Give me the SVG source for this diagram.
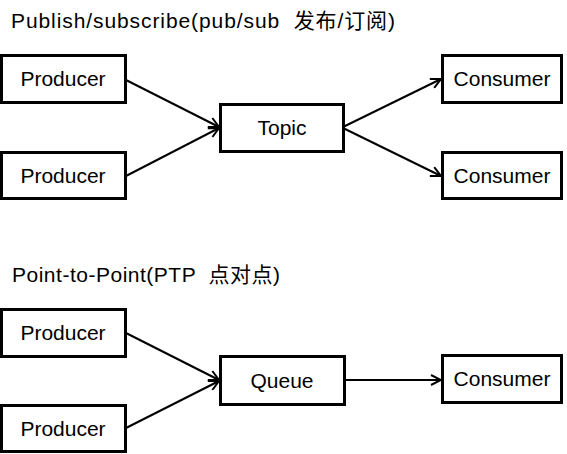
<svg xmlns="http://www.w3.org/2000/svg" width="567" height="454" viewBox="0 0 567 454">
<style>
.box{fill:#fff;stroke:#000;stroke-width:3}
.lbl{font-family:"Liberation Sans","Noto Sans CJK SC",sans-serif;font-size:21px;fill:#000;text-anchor:middle}
.title{font-family:"Liberation Sans","Noto Sans CJK SC",sans-serif;font-size:21px;fill:#000;white-space:pre}
.edge{stroke:#000;stroke-width:2;fill:none;marker-end:url(#arr)}
</style>
<defs>
<marker id="arr" viewBox="0 0 12 12" refX="11" refY="6" markerWidth="12" markerHeight="12" markerUnits="userSpaceOnUse" orient="auto">
<path d="M1,1 L11,6 L1,11" fill="none" stroke="#000" stroke-width="2"/>
</marker>
</defs>
<rect width="567" height="454" fill="#fff"/>
<text class="title" x="11" y="28" xml:space="preserve" textLength="384" lengthAdjust="spacing">Publish/subscribe(pub/sub  发布/订阅)</text>
<text class="title" x="12" y="282" xml:space="preserve" textLength="268" lengthAdjust="spacing">Point-to-Point(PTP  点对点)</text>
<g id="connectors">
<line class="edge" x1="126" y1="80" x2="219" y2="127"/>
<line class="edge" x1="126" y1="176" x2="219" y2="128"/>
<line class="edge" x1="343" y1="127" x2="441" y2="79"/>
<line class="edge" x1="343" y1="128" x2="441" y2="176"/>
<line class="edge" x1="126" y1="333" x2="219" y2="380"/>
<line class="edge" x1="126" y1="428" x2="219" y2="381"/>
<line class="edge" x1="345" y1="380" x2="441" y2="380"/>
</g>
<g id="producer1"><rect class="box" x="1.5" y="55.5" width="124" height="47"/><text class="lbl" x="63" y="86">Producer</text></g>
<g id="producer2"><rect class="box" x="1.5" y="152.5" width="124" height="46"/><text class="lbl" x="63" y="183">Producer</text></g>
<g id="topic"><rect class="box" x="220.5" y="104.5" width="123" height="47"/><text class="lbl" x="282" y="135">Topic</text></g>
<g id="consumer1"><rect class="box" x="442.5" y="55.5" width="119" height="47"/><text class="lbl" x="502" y="86">Consumer</text></g>
<g id="consumer2"><rect class="box" x="442.5" y="152.5" width="119" height="46"/><text class="lbl" x="502" y="183">Consumer</text></g>
<g id="producer3"><rect class="box" x="1.5" y="309.5" width="124" height="47"/><text class="lbl" x="63" y="340">Producer</text></g>
<g id="producer4"><rect class="box" x="1.5" y="405.5" width="124" height="46"/><text class="lbl" x="63" y="436">Producer</text></g>
<g id="queue"><rect class="box" x="220.5" y="356.5" width="124" height="48"/><text class="lbl" x="282" y="388">Queue</text></g>
<g id="consumer3"><rect class="box" x="442.5" y="355.5" width="119" height="47"/><text class="lbl" x="502" y="386">Consumer</text></g>
</svg>
